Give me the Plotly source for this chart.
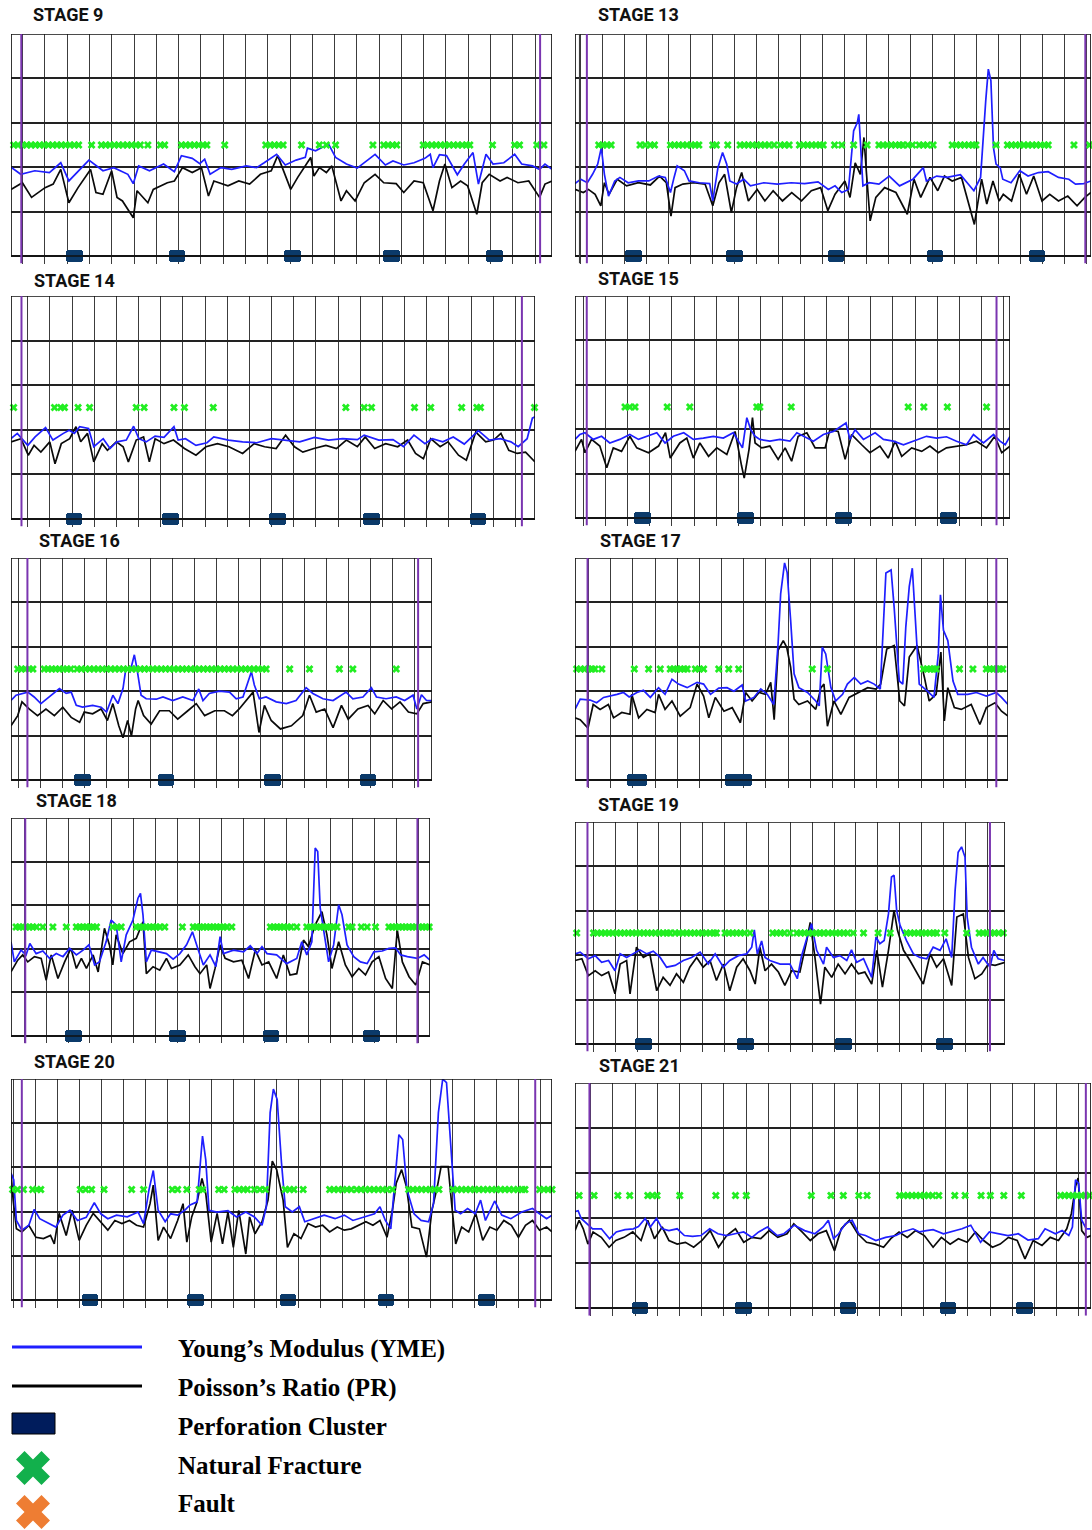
import plotly.graph_objects as go

# ============================ DATA ============================
# Each curve: (depth in % of the displayed stage interval, log value in track divisions 0..5)
STAGES = ["STAGE 9", "STAGE 13", "STAGE 14", "STAGE 15", "STAGE 16",
          "STAGE 17", "STAGE 18", "STAGE 19", "STAGE 20", "STAGE 21"]

S9_YME = [(0,2.0),(1.8,1.84),(4.4,1.92),(7.1,1.88),(9.2,2.1),(10.7,1.69),(14.4,2.16),(17.0,1.92),(19.0,1.99),(21.6,1.84),
          (22.6,1.63),(23.6,2.03),(25.6,1.92),(28.2,2.07),(30.2,1.9),(31.5,2.26),(33.5,2.2),(34.9,2.08),(35.8,2.18),(36.8,1.84),
          (38.8,1.99),(40.8,1.95),(43.5,2.03),(45.4,1.99),(46.8,2.1),(49.1,2.29),(50.7,2.05),(52.7,2.16),(54.4,2.22),(54.8,2.43),
          (56.3,2.37),(58.7,2.52),(60.0,2.22),(62.0,2.07),(64.0,1.98),(65.3,2.1),(67.3,2.29),(69.2,2.05),(70.6,2.14),(72.6,2.05),
          (74.5,2.1),(76.5,2.2),(77.5,2.29),(78.0,1.99),(79.2,2.28),(80.5,2.26),(82.5,1.83),(83.8,2.07),(85.4,2.33),(86.4,1.62),
          (87.8,2.29),(89.1,2.07),(91.1,2.1),(93.1,2.29),(94.4,2.07),(96.4,2.03),(97.7,1.95),(98.7,2.07),(100,1.95)]
S9_PR = [(0,1.5),(2.1,1.65),(3.8,1.32),(6.3,1.54),(7.8,1.62),(9.2,1.95),(10.7,1.2),(12.4,1.54),(14.7,1.95),(15.7,1.43),
         (17.0,1.39),(18.6,1.92),(19.6,1.32),(20.6,1.24),(22.6,0.86),(23.3,1.47),(25.3,1.2),(26.3,1.5),(28.9,1.65),(30.2,1.69),
         (31.7,1.99),(33.5,1.88),(35.2,1.99),(36.5,1.35),(37.5,1.69),(40.1,1.58),(42.1,1.69),(44.1,1.62),(46.1,1.84),(48.1,1.92),
         (49.3,2.26),(50.4,1.92),(51.7,1.5),(53.0,1.77),(54.4,2.03),(55.4,2.22),(56.0,1.8),(57.0,1.99),(58.3,1.88),(59.3,2.03),
         (61.0,1.24),(62.0,1.47),(63.6,1.24),(65.3,1.65),(67.3,1.84),(68.9,1.65),(71.2,1.63),(72.6,1.43),(74.5,1.69),(76.2,1.65),
         (78.0,1.02),(79.2,1.69),(80.2,2.07),(81.5,1.54),(83.1,1.69),(84.4,1.58),(86.1,0.94),(87.1,1.65),(88.4,1.84),(90.4,1.69),
         (91.7,1.77),(93.7,1.65),(95.7,1.69),(97.7,1.32),(98.7,1.62),(100,1.69)]
S9_FRAC = [0.5,1.3,2.1,2.9,3.7,4.5,5.3,6.1,6.9,7.7,8.5,9.3,10.1,10.9,11.7,12.5,14.9,16.7,17.5,18.3,19.1,19.9,20.7,21.5,
           22.3,23.1,23.9,25.3,27.6,28.4,31.5,32.3,33.1,33.9,34.7,35.5,36.2,39.5,47.1,47.9,48.7,49.5,50.3,53.7,57.0,58.3,
           60.0,66.9,68.9,69.7,70.5,71.3,76.2,77.0,77.8,78.6,79.4,80.2,81.0,81.8,82.6,83.4,84.2,84.8,89.0,93.1,94.0,97.2,98.5]
S9_PERF = [11.7, 30.7, 52.1, 70.4, 89.3]

S13_YME = [(0,1.63),(1.1,1.73),(2.4,1.65),(3.4,1.84),(4.4,2.07),(5.1,2.44),(5.7,1.84),(6.5,1.35),(7.7,1.69),(8.7,1.77),
           (10.3,1.65),(12.3,1.69),(14.3,1.69),(16.2,1.8),(17.5,1.77),(18.5,1.43),(19.2,1.77),(19.8,2.03),(21.2,1.92),(22.1,1.69),
           (24.1,1.65),(26.1,1.63),(26.7,1.24),(27.7,1.99),(28.6,2.33),(29.4,2.07),(30.0,1.69),(31.3,1.62),(32.7,1.73),(34.0,1.58),
           (36.6,1.65),(39.2,1.62),(41.9,1.65),(44.5,1.63),(47.1,1.67),(49.1,1.5),(50.4,1.58),(51.7,1.43),(53.0,1.5),(53.5,2.14),
           (54.0,2.82),(54.7,3.0),(55.0,3.19),(55.3,2.59),(55.8,1.58),(57.0,1.65),(58.9,1.62),(60.9,1.8),(62.9,1.58),(65.5,1.73),
           (67.5,1.99),(68.1,1.69),(70.1,1.8),(72.1,1.77),(74.7,1.83),(77.3,1.47),(78.6,1.77),(79.6,3.5),(80.1,4.21),(80.6,3.95),
           (81.1,2.44),(81.6,2.07),(82.4,1.99),(82.9,1.73),(84.5,1.65),(86.2,1.92),(87.8,1.8),(89.8,1.88),(91.7,1.9),(93.7,1.77),
           (95.7,1.73),(97.0,1.62),(98.6,1.63),(100,1.69)]
S13_PR = [(0,1.5),(1.6,1.43),(2.6,1.5),(3.9,1.39),(5.0,1.13),(5.7,1.65),(6.6,1.39),(8.2,1.73),(10.0,1.58),(12.3,1.65),
          (14.6,1.6),(16.4,1.8),(17.7,1.65),(18.6,0.9),(19.4,1.54),(20.9,1.62),(23.0,1.65),(25.2,1.62),(26.7,1.13),(27.9,1.65),
          (29.0,1.84),(30.3,0.98),(31.3,1.54),(32.3,1.88),(33.6,1.24),(35.3,1.5),(36.8,1.24),(38.4,1.47),(40.2,1.24),(42.0,1.43),
          (43.9,1.24),(45.8,1.47),(47.6,1.54),(49.0,1.02),(50.4,1.39),(52.3,1.69),(53.3,1.32),(54.3,2.1),(55.3,1.84),(56.0,2.67),
          (56.5,1.84),(57.2,0.79),(58.3,1.32),(60.0,1.54),(62.2,1.43),(64.4,0.94),(65.7,1.73),(67.0,1.32),(68.8,1.77),(70.3,1.47),
          (71.6,1.8),(73.1,1.69),(74.9,1.77),(77.4,0.71),(78.8,1.73),(79.8,1.17),(81.0,1.69),(82.2,1.24),(83.0,1.39),(84.6,1.24),
          (86.1,1.84),(87.5,1.39),(88.9,1.8),(90.5,1.24),(92.0,1.39),(93.7,1.24),(95.5,1.35),(97.3,1.13),(98.8,1.32),(100,1.43)]
S13_FRAC = [4.6,5.4,6.2,7.0,12.6,13.6,14.6,15.4,18.5,19.3,20.1,20.9,21.7,22.5,23.3,24.0,26.7,27.4,29.6,32.0,32.8,33.6,
            34.4,35.2,36.0,36.8,37.6,38.6,39.8,40.6,41.5,43.5,44.3,45.1,45.9,46.7,47.5,48.1,50.3,51.7,54.0,56.6,58.9,59.7,
            60.5,61.3,62.1,62.9,63.5,64.5,65.4,66.7,67.5,68.3,69.4,73.1,73.9,74.7,75.5,76.3,77.1,77.7,81.6,83.8,84.6,85.4,
            86.2,87.0,87.8,88.6,89.4,90.2,91.0,91.7,96.7,99.7]
S13_PERF = [11.3, 30.9, 50.6, 69.8, 89.5]

S14_YME = [(0,1.8),(1.2,1.92),(3.2,1.65),(4.6,1.84),(6.6,2.05),(8.0,1.77),(10.0,1.92),(11.1,1.99),(12.1,1.92),(13.1,2.07),
           (14.8,2.03),(15.8,1.62),(17.6,1.8),(18.9,1.58),(20.2,1.73),(22.0,1.77),(23.4,2.08),(24.4,1.8),(25.8,1.73),(27.5,1.86),
           (29.2,1.83),(31.1,2.07),(31.9,1.77),(33.3,1.8),(35.3,1.65),(37.4,1.71),(38.7,1.84),(41.5,1.77),(44.2,1.73),(46.9,1.71),
           (49.7,1.8),(52.4,1.77),(55.1,1.73),(57.9,1.83),(60.6,1.77),(63.3,1.8),(66.1,1.78),(67.4,1.88),(70.2,1.77),(72.9,1.78),
           (74.9,1.62),(76.9,1.88),(79.0,1.69),(80.4,1.8),(82.4,1.73),(84.4,1.84),(86.5,1.68),(89.2,1.98),(91.3,1.77),(93.4,1.8),
           (95.4,1.73),(96.8,1.62),(98.5,1.8),(99.5,2.26),(100,2.29)]
S14_PR = [(0,1.73),(1.9,1.8),(3.3,1.43),(4.4,1.65),(5.7,1.5),(7.4,1.73),(8.4,1.24),(9.6,1.69),(11.2,1.8),(12.4,2.07),
          (13.3,1.73),(14.6,1.92),(15.8,1.28),(17.4,1.69),(18.4,1.54),(20.1,1.73),(21.4,1.62),(22.4,1.28),(23.9,1.77),(25.3,1.84),
          (26.4,1.28),(27.5,1.8),(29.2,1.69),(31.0,1.77),(33.1,1.58),(35.3,1.43),(37.2,1.62),(39.4,1.69),(41.6,1.62),(44.2,1.47),
          (46.4,1.69),(48.4,1.62),(50.6,1.58),(52.4,1.88),(54.1,1.62),(55.7,1.5),(57.8,1.58),(60.1,1.65),(62.1,1.58),(64.0,1.77),
          (66.1,1.62),(67.6,1.84),(69.4,1.58),(71.5,1.69),(73.8,1.62),(75.7,1.77),(77.2,1.47),(78.7,1.35),(80.1,1.8),(81.9,1.62),
          (83.4,1.73),(85.4,1.43),(86.9,1.32),(88.7,1.95),(90.6,1.73),(92.1,1.77),(93.5,1.92),(95.0,1.54),(96.6,1.47),(98.2,1.5),
          (100,1.28)]
S14_FRAC = [0.5,8.3,9.5,10.2,12.8,15.0,23.9,25.4,31.1,33.1,38.6,63.9,67.4,68.8,77.0,80.1,86.0,88.9,89.6,99.9]
S14_PERF = [12.0, 30.4, 50.8, 68.8, 89.1]

S15_YME = [(0,1.77),(1.1,1.88),(2.3,1.92),(4.2,1.77),(6.1,1.84),(8.0,1.69),(10.3,1.77),(12.6,1.88),(14.6,1.77),(16.5,1.84),
           (18.8,1.92),(20.7,1.69),(22.6,1.84),(25.0,1.92),(27.2,1.77),(29.5,1.8),(31.8,1.84),(34.1,1.8),(36.4,1.92),(38.5,1.58),
           (39.5,2.26),(40.4,1.99),(41.4,1.84),(42.5,1.77),(44.8,1.73),(47.1,1.77),(49.4,1.73),(51.0,1.92),(52.5,1.84),(54.8,1.73),
           (57.1,1.88),(59.4,1.95),(61.7,2.1),(62.3,2.14),(63.2,1.77),(64.4,1.99),(66.3,1.77),(69.0,1.92),(70.9,1.77),(73.2,1.73),
           (75.5,1.65),(77.8,1.73),(80.8,1.84),(83.1,1.8),(85.4,1.83),(87.7,1.73),(90.0,1.65),(91.6,1.88),(93.9,1.69),(96.2,1.88),
           (97.7,1.73),(98.9,1.65),(100,1.84)]
S15_PR = [(0,1.5),(1.5,1.77),(2.3,1.47),(3.8,1.77),(5.7,1.62),(7.3,1.13),(8.8,1.58),(10.7,1.5),(12.6,1.84),(14.2,1.58),
          (16.9,1.47),(19.2,1.62),(20.8,1.92),(21.9,1.35),(24.1,1.69),(25.7,1.8),(27.2,1.35),(28.7,1.69),(30.7,1.39),(32.6,1.58),
          (34.9,1.43),(36.8,1.95),(38.3,1.17),(38.9,0.9),(40.0,1.54),(40.8,2.26),(41.4,1.69),(42.9,1.58),(44.8,1.62),(46.7,1.32),
          (48.3,1.58),(49.8,1.28),(51.3,1.84),(53.3,1.92),(55.2,1.58),(57.5,1.58),(58.6,1.99),(60.5,1.95),(62.1,1.32),(63.6,1.88),
          (65.9,1.65),(67.8,1.47),(70.1,1.62),(72.0,1.35),(73.6,1.73),(75.1,1.39),(77.4,1.58),(79.7,1.5),(81.6,1.62),(83.5,1.47),
          (85.4,1.58),(87.7,1.62),(90.0,1.65),(92.3,1.73),(94.6,1.58),(96.5,1.84),(98.1,1.47),(100,1.62)]
S15_FRAC = [11.5,12.6,13.8,21.2,26.4,41.8,42.5,49.7,76.6,80.2,85.6,94.6]
S15_PERF = [15.6, 39.2, 61.7, 85.8]

S16_YME = [(0,1.79),(1.2,1.91),(4.0,1.98),(5.5,1.87),(7.1,1.72),(9.1,1.87),(11.5,2.06),(13.1,1.95),(14.3,1.98),(15.5,1.68),
           (17.0,1.64),(19.4,1.68),(21.4,1.64),(22.7,1.53),(24.2,1.91),(25.4,1.72),(26.6,2.06),(27.3,2.52),(28.3,2.44),(28.9,2.67),
           (29.3,2.82),(29.9,2.52),(30.9,1.91),(32.1,1.83),(34.5,1.82),(36.1,1.87),(38.4,1.79),(40.8,1.87),(43.2,1.79),(44.6,2.05),
           (45.6,1.79),(47.1,1.95),(49.5,2.0),(51.9,1.98),(53.5,1.83),(55.1,1.87),(56.3,2.21),(57.1,2.44),(57.8,2.14),(59.0,1.83),
           (60.6,1.87),(63.0,1.76),(65.4,1.72),(67.7,1.79),(70.1,2.08),(71.7,1.95),(74.1,1.83),(76.5,1.79),(79.6,1.98),(81.2,1.83),
           (83.6,1.87),(85.6,2.08),(86.8,1.87),(89.1,1.83),(91.5,1.87),(93.5,1.79),(95.5,1.91),(96.4,1.6),(97.5,1.92),(98.7,1.79),
           (100,1.79)]
S16_PR = [(0,1.22),(1.6,1.45),(2.6,1.76),(4.3,1.6),(6.3,1.45),(8.3,1.6),(10.3,1.45),(12.3,1.64),(14.3,1.41),(16.3,1.3),
          (17.4,1.53),(19.4,1.49),(21.4,1.6),(22.9,1.34),(24.2,1.72),(25.6,1.22),(26.6,0.95),(27.7,1.34),(28.6,0.99),(29.6,1.6),
          (30.2,1.79),(31.5,1.45),(33.3,1.26),(35.3,1.56),(37.6,1.56),(39.6,1.37),(42.0,1.56),(44.0,1.72),(46.0,1.45),(48.4,1.56),
          (50.7,1.56),(52.6,1.45),(54.2,1.6),(56.2,1.83),(57.5,1.98),(58.9,1.07),(60.2,1.68),(61.8,1.34),(64.0,1.15),(66.6,1.22),
          (69.3,1.45),(70.9,1.91),(72.5,1.53),(74.5,1.6),(76.5,1.18),(78.5,1.68),(80.1,1.37),(82.4,1.6),(84.8,1.68),(86.4,1.49),
          (88.4,1.79),(90.4,1.6),(92.4,1.76),(94.4,1.53),(96.4,1.49),(97.9,1.72),(100,1.76)]
S16_FRAC = [1.6,2.5,3.4,4.3,5.2,7.9,8.8,9.7,10.6,11.5,12.4,13.3,14.2,15.7,16.7,17.7,18.7,19.7,20.7,21.7,22.7,23.7,24.7,
            25.7,26.7,27.7,28.7,29.7,30.7,31.7,32.7,33.7,34.7,35.7,36.7,37.7,38.7,39.7,40.7,41.7,42.7,43.7,44.7,45.7,46.7,
            47.7,48.7,49.7,50.7,51.7,52.7,53.7,54.7,55.7,56.7,57.7,58.7,59.7,60.6,66.2,70.9,78.0,81.2,91.5]
S16_PERF = [17.0, 36.8, 62.2, 84.8]

S17_YME = [(0,1.59),(1.2,1.82),(3.5,1.8),(5.0,1.74),(6.6,1.86),(8.1,1.89),(9.7,1.93),(11.2,1.97),(12.5,1.87),(14.3,1.97),
           (15.8,2.02),(17.4,1.86),(19.3,2.08),(20.8,1.93),(22.4,2.27),(23.9,2.16),(25.9,2.08),(28.2,2.2),(29.7,2.16),(31.3,1.93),
           (33.2,2.07),(35.1,2.08),(36.7,2.0),(38.6,2.14),(39.4,1.78),(41.3,1.86),(42.9,2.05),(44.4,1.93),(45.9,1.7),(46.9,3.07),
           (47.5,4.2),(48.4,4.89),(49.0,4.67),(49.8,3.6),(50.6,2.39),(51.7,2.08),(53.7,1.97),(55.6,1.78),(56.4,1.67),(57.1,2.99),
           (57.9,2.84),(59.1,2.08),(60.2,1.78),(61.8,1.93),(62.9,2.16),(64.5,2.31),(66.0,2.16),(67.6,2.23),(69.1,2.16),(70.5,2.05),
           (71.3,3.83),(71.8,4.66),(73.0,4.73),(73.7,3.9),(74.9,2.23),(75.7,2.16),(76.4,3.45),(77.2,4.36),(77.9,4.77),(78.7,3.52),
           (79.5,2.16),(81.4,2.0),(82.9,1.86),(83.9,2.84),(84.4,4.17),(85.1,3.37),(86.1,3.14),(87.3,2.23),(88.4,1.93),(90.7,1.93),
           (92.7,1.97),(95.0,1.89),(97.3,1.97),(98.5,1.86),(100,1.7)]
S17_PR = [(0,1.4),(1.2,1.36),(3.0,1.17),(4.2,1.7),(5.8,1.59),(7.7,1.7),(8.9,1.4),(10.8,1.52),(12.7,1.48),(13.1,1.93),
          (14.7,1.4),(16.6,1.59),(18.5,1.52),(19.3,1.93),(20.8,1.59),(22.4,1.78),(24.3,1.44),(26.6,1.63),(28.2,2.16),(29.7,1.89),
          (30.9,1.4),(32.4,1.86),(34.4,1.55),(36.3,1.63),(38.2,1.29),(39.4,1.97),(40.9,1.78),(42.5,1.97),(44.0,1.93),(45.2,2.2),
          (46.0,1.36),(46.9,2.92),(48.1,3.14),(48.9,2.99),(49.8,2.54),(50.6,1.82),(51.7,1.7),(53.7,1.78),(55.6,1.59),(56.8,2.08),
          (57.5,2.16),(58.3,1.21),(59.8,1.78),(61.4,1.48),(63.3,1.86),(65.6,1.97),(67.6,2.08),(69.5,2.05),(70.6,2.16),(72.0,2.95),
          (73.7,3.03),(75.0,1.78),(76.1,1.67),(77.2,2.77),(79.0,3.03),(80.7,2.31),(81.8,1.78),(83.4,1.93),(84.5,2.88),(85.3,1.33),
          (86.1,2.08),(87.6,1.63),(89.2,1.59),(91.5,1.7),(93.5,1.25),(95.0,1.63),(97.0,1.74),(98.5,1.55),(100,1.44)]
S17_FRAC = [0.4,1.3,2.2,3.1,3.9,4.6,6.2,13.7,17.0,19.7,22.0,22.8,23.6,24.4,25.2,25.9,27.8,28.7,29.7,33.2,35.5,37.8,
            54.8,58.3,80.5,81.3,82.1,82.8,83.4,88.8,91.9,95.0,95.8,96.6,97.4,98.1,98.8]
S17_PERF = [14.3, 37.7]

S18_YME = [(0,2.16),(0.8,1.7),(2.4,1.97),(3.6,1.86),(4.5,2.12),(6.0,1.89),(7.6,1.95),(9.2,1.78),(10.8,1.89),(12.4,1.82),
           (14.0,2.01),(15.6,1.86),(17.2,1.97),(18.6,2.09),(19.95,1.63),(21.1,1.7),(22.7,2.16),(23.9,2.66),(25.1,2.55),(26.3,1.7),
           (27.5,2.32),(29.1,2.66),(30.3,3.16),(30.9,3.27),(31.5,2.78),(32.3,1.7),(33.5,1.97),(35.5,1.93),(37.1,1.89),(38.7,1.76),
           (40.3,1.89),(41.9,2.09),(43.3,2.39),(44.7,1.97),(45.9,1.63),(47.5,1.86),(48.9,1.59),(49.9,2.28),(50.7,1.89),(53.1,1.97),
           (55.5,1.93),(57.1,2.07),(58.7,1.89),(59.9,2.05),(61.1,1.89),(63.4,1.86),(65.8,1.66),(68.2,1.78),(69.4,2.16),(70.6,1.86),
           (71.8,2.16),(72.6,4.31),(73.2,4.23),(73.8,2.93),(74.6,2.39),(75.8,1.7),(77.0,2.09),(78.2,3.01),(79.0,2.78),(80.2,2.09),
           (81.8,1.82),(83.4,1.7),(85.0,1.66),(86.6,1.93),(88.6,1.95),(90.2,2.01),(91.8,2.02),(93.0,1.86),(94.6,1.82),(97.0,1.78),
           (98.6,1.86),(100,1.74)]
S18_PR = [(0,1.47),(1.6,1.74),(2.8,1.86),(4.0,1.7),(5.6,1.82),(7.2,1.78),(8.4,1.28),(9.6,1.86),(11.2,1.32),(12.8,1.7),
          (14.3,2.01),(15.6,1.55),(16.8,1.78),(18.0,1.55),(19.6,1.86),(20.8,1.47),(22.3,2.47),(23.5,2.09),(24.3,1.63),(25.1,2.32),
          (26.7,1.89),(28.3,2.16),(29.9,2.24),(31.5,2.62),(32.3,1.43),(33.9,1.59),(35.5,1.51),(37.1,1.78),(38.3,1.55),(40.3,1.63),
          (42.3,1.86),(43.9,1.59),(45.1,1.43),(46.7,1.63),(47.5,1.09),(48.7,1.55),(49.9,2.09),(51.1,1.78),(53.1,1.7),(55.1,1.74),
          (56.7,1.32),(58.3,1.97),(59.9,1.63),(61.5,1.7),(63.4,1.32),(65.0,1.86),(66.6,1.4),(68.2,1.43),(69.8,2.2),(71.0,2.05),
          (72.6,2.55),(74.2,2.85),(75.4,2.32),(76.6,1.55),(78.2,2.16),(79.8,1.63),(81.4,1.36),(83.0,1.55),(84.6,1.4),(86.2,1.7),
          (87.8,1.82),(89.4,1.32),(91.0,1.09),(92.2,2.43),(93.4,1.7),(95.0,1.36),(96.6,1.17),(98.2,1.7),(100,1.63)]
S18_FRAC = [1.2,2.0,2.8,3.6,4.4,5.2,6.1,7.6,10.0,13.2,15.6,16.4,17.2,18.0,18.8,19.6,20.4,24.3,25.3,26.3,29.9,30.7,31.5,
            32.3,33.1,33.9,34.7,35.5,36.7,40.9,43.5,44.3,45.1,45.9,46.7,47.5,48.3,49.1,49.9,50.7,51.5,52.7,61.9,62.7,63.5,
            64.3,65.1,66.0,66.8,68.2,70.6,71.4,72.2,73.0,73.8,74.6,75.4,76.2,77.0,77.8,80.6,81.4,83.6,85.0,87.0,90.2,91.0,
            91.8,92.6,93.4,94.2,95.0,95.8,96.6,97.4,98.2,99.0,99.8]
S18_PERF = [14.9, 39.7, 62.0, 86.0]

S19_YME = [(0,2.03),(1.2,2.07),(3.1,1.92),(4.7,1.99),(6.2,1.84),(7.8,1.88),(9.3,1.65),(10.5,2.03),(12.0,1.95),(13.6,2.03),
           (15.1,2.12),(16.7,2.03),(18.2,2.09),(19.8,1.95),(21.3,1.73),(23.3,1.77),(25.2,1.88),(27.1,1.95),(29.1,2.07),(31.0,1.8),
           (32.6,2.03),(34.5,1.73),(36.0,1.88),(38.0,1.99),(39.9,2.03),(41.1,2.18),(41.7,2.57),(42.4,2.03),(43.4,2.32),(44.2,1.95),
           (45.3,1.88),(47.7,1.8),(50.0,1.8),(51.7,1.47),(52.7,1.99),(54.0,2.41),(55.0,2.71),(56.2,2.11),(57.8,1.8),(58.5,2.18),
           (60.1,1.95),(61.6,1.99),(63.2,1.88),(64.3,2.12),(65.5,1.84),(67.1,1.92),(69.0,1.5),(70.0,2.41),(70.9,2.26),(71.9,2.33),
           (72.9,2.93),(73.6,3.76),(74.2,3.8),(74.8,3.01),(75.6,2.67),(77.1,2.33),(78.7,2.03),(80.2,1.95),(81.8,1.92),(83.3,2.18),
           (84.9,2.11),(86.3,2.37),(87.6,1.95),(88.4,3.46),(89.1,4.32),(89.9,4.44),(90.7,4.21),(91.2,2.86),(92.2,2.18),(93.8,1.8),
           (94.9,1.95),(96.5,1.73),(97.4,2.11),(98.4,1.92),(100,1.88)]
S19_PR = [(0,1.88),(1.6,1.92),(3.1,1.54),(4.7,1.65),(6.2,1.54),(7.8,1.62),(9.3,1.13),(10.5,1.8),(12.0,1.88),(12.8,1.13),
          (14.3,2.18),(15.9,1.95),(17.4,2.03),(19.0,1.2),(20.5,1.5),(22.1,1.32),(23.6,1.58),(25.2,1.39),(26.7,1.73),(28.3,1.95),
          (29.8,1.73),(31.4,1.88),(32.9,1.43),(34.5,1.8),(36.0,1.2),(37.6,1.73),(39.1,1.92),(40.7,1.65),(41.9,1.35),(43.0,2.18),
          (44.2,1.65),(45.7,1.8),(47.3,1.62),(48.8,1.32),(50.4,1.65),(52.3,1.62),(53.9,2.33),(54.7,2.74),(55.8,1.95),(57.1,0.9),
          (58.1,1.73),(59.7,1.5),(61.2,1.8),(62.8,1.58),(64.3,1.8),(65.9,1.58),(67.4,1.62),(69.0,1.35),(70.2,2.11),(71.5,1.28),
          (72.9,2.11),(74.2,3.01),(75.0,2.56),(76.4,2.11),(77.9,1.88),(79.5,1.62),(81.0,1.35),(82.6,2.03),(84.1,1.73),(85.7,1.92),
          (87.6,1.32),(88.8,2.86),(90.3,2.93),(91.5,1.95),(93.0,1.47),(94.6,1.58),(96.1,1.8),(97.7,1.77),(100,1.84)]
S19_FRAC = [0.4,4.3,5.2,6.1,7.0,7.9,8.8,9.7,10.6,11.5,12.4,13.3,14.2,15.1,16.0,16.9,17.8,18.7,19.6,20.5,21.4,22.1,23.3,
            24.2,25.1,26.0,26.9,27.8,28.7,29.6,30.5,31.4,32.3,32.9,34.9,35.8,36.7,37.6,38.5,39.4,40.7,46.0,46.9,47.8,48.7,
            50.0,51.6,52.5,53.4,54.3,55.2,56.1,57.0,57.8,58.9,59.8,60.7,61.6,62.5,63.4,64.7,67.1,70.5,73.3,77.1,78.0,78.9,
            79.8,80.7,81.6,82.5,83.4,84.1,86.0,91.1,94.0,94.9,95.8,96.7,97.6,98.5,99.6]
S19_PERF = [15.9, 39.7, 62.4, 85.9]

S20_YME = [(0,2.87),(0.5,2.72),(1.0,1.8),(2.0,1.58),(3.3,1.69),(4.3,2.05),(5.3,1.84),(7.0,1.73),(8.3,1.65),(9.6,1.92),
           (10.9,2.03),(12.3,1.8),(13.9,1.87),(15.4,2.2),(16.6,1.95),(17.9,1.84),(19.5,1.92),(21.5,1.88),(23.5,1.99),(24.5,1.73),
           (25.5,2.49),(26.3,2.93),(27.2,2.03),(28.5,1.77),(29.5,1.95),(30.8,1.92),(32.1,2.03),(33.1,2.15),(34.4,2.22),(34.9,2.95),
           (35.4,3.71),(36.0,3.17),(36.6,2.03),(38.1,1.99),(40.1,2.02),(41.7,1.88),(43.4,1.99),(45.0,1.88),(46.4,1.69),(47.2,2.11),
           (47.9,4.24),(48.5,4.77),(49.2,4.54),(50.0,3.1),(50.7,2.11),(52.0,1.99),(53.3,2.11),(54.3,1.77),(56.0,1.84),(57.9,1.92),
           (59.9,1.84),(61.6,1.92),(63.2,1.8),(65.2,1.88),(67.2,1.95),(68.2,2.11),(69.2,1.8),(70.2,1.61),(70.9,2.56),(71.7,3.74),
           (72.4,3.63),(73.2,2.49),(74.5,1.95),(75.8,1.8),(77.2,1.77),(78.1,2.18),(79.0,4.24),(79.8,5.0),(80.5,4.92),(81.3,3.48),
           (82.1,2.03),(83.1,1.95),(84.4,2.07),(85.8,1.95),(86.8,2.26),(87.7,1.8),(89.4,2.24),(90.7,1.92),(92.4,1.84),(94.4,1.99),
           (96.4,2.07),(97.7,1.95),(99.0,1.84),(100,1.92)]
S20_PR = [(0,2.88),(0.4,2.26),(1.0,1.61),(2.0,1.54),(3.3,1.69),(4.6,1.42),(6.0,1.39),(7.3,1.46),(8.0,1.27),(8.9,1.96),
          (10.2,1.46),(11.3,2.03),(12.6,1.35),(13.9,1.69),(15.2,1.96),(16.6,1.77),(17.9,1.58),(19.2,1.8),(20.5,1.73),(21.9,1.8),
          (23.2,1.69),(24.5,1.65),(25.7,2.18),(26.3,2.6),(27.2,1.35),(28.2,1.65),(29.5,1.39),(30.8,1.8),(31.8,2.18),(32.5,1.31),
          (33.4,1.88),(34.4,2.22),(35.3,2.75),(36.0,2.41),(37.0,1.31),(38.1,1.96),(39.1,1.27),(40.1,1.99),(41.1,1.19),(42.1,2.03),
          (43.4,1.04),(44.1,1.88),(45.1,1.5),(46.4,1.77),(47.5,2.26),(48.3,3.14),(49.1,2.95),(50.3,2.26),(51.1,1.19),(52.3,1.5),
          (53.6,1.39),(54.9,1.73),(56.3,1.65),(57.6,1.69),(58.9,1.54),(60.3,1.65),(61.6,1.58),(62.9,1.61),(64.2,1.69),(65.6,1.77),
          (66.9,1.69),(68.2,1.8),(69.5,1.42),(70.5,2.03),(71.2,2.64),(72.2,2.95),(73.1,2.56),(74.1,1.65),(75.5,1.61),(76.8,0.97),
          (77.8,2.03),(78.8,2.56),(79.5,3.02),(80.8,3.02),(81.5,2.11),(82.2,1.27),(83.3,1.65),(84.6,1.54),(85.9,1.96),(87.2,1.35),
          (88.5,1.65),(89.8,1.58),(91.1,1.8),(92.5,1.69),(93.8,1.42),(95.1,1.69),(96.4,1.8),(97.7,1.58),(99.0,1.65),(100,1.54)]
S20_FRAC = [0.3,1.2,2.3,4.0,4.8,5.5,12.8,13.8,14.9,17.2,22.3,24.5,29.8,30.8,32.5,34.8,35.4,38.4,39.4,41.4,42.2,43.0,43.7,
            45.0,46.0,47.0,50.7,51.5,52.3,54.0,58.9,59.7,60.5,61.3,62.1,62.9,63.9,64.7,65.5,66.3,67.1,67.9,68.7,69.5,70.5,
            73.5,74.3,75.1,75.9,76.7,77.5,78.3,79.1,81.7,82.5,83.3,84.1,84.9,85.7,86.5,87.3,88.1,88.9,89.7,90.5,91.3,92.1,
            92.9,93.7,94.5,95.0,97.7,98.5,99.3,100]
S20_PERF = [14.6, 34.1, 51.2, 69.3, 87.9]

S21_YME = [(0,2.14),(0.6,2.16),(1.2,1.99),(2.4,1.87),(3.4,1.76),(5.1,1.76),(6.7,1.54),(8.0,1.69),(9.7,1.74),(11.3,1.76),
           (12.3,1.81),(13.6,1.99),(14.6,1.8),(15.8,1.99),(16.9,1.76),(18.2,1.72),(19.8,1.76),(21.2,1.61),(22.8,1.59),(24.4,1.61),
           (26.1,1.76),(27.7,1.65),(29.4,1.61),(31.0,1.65),(32.7,1.69),(34.3,1.57),(35.6,1.69),(37.3,1.8),(39.2,1.61),(40.5,1.65),
           (42.5,1.84),(44.5,1.72),(46.5,1.65),(48.1,1.8),(49.1,1.95),(50.1,1.54),(51.1,1.65),(52.4,1.87),(53.7,1.95),(55.0,1.65),
           (56.3,1.61),(58.3,1.5),(60.2,1.57),(62.2,1.61),(63.5,1.69),(65.5,1.76),(66.8,1.69),(68.1,1.72),(69.4,1.74),(71.4,1.65),
           (73.4,1.72),(75.0,1.76),(76.7,1.84),(78.6,1.46),(80.3,1.69),(82.3,1.65),(83.9,1.61),(85.9,1.65),(87.8,1.51),(89.8,1.54),
           (91.1,1.76),(93.1,1.65),(94.4,1.72),(95.7,1.61),(96.4,1.8),(97.0,2.85),(97.6,2.77),(98.2,1.95),(99.1,1.76),(100,1.76)]
S21_PR = [(0,1.72),(0.8,1.95),(1.6,1.76),(2.5,1.42),(3.5,1.69),(5.1,1.57),(6.6,1.35),(7.9,1.5),(9.5,1.57),(11.2,1.69),
          (12.8,1.5),(14.1,1.95),(15.4,1.54),(16.9,1.8),(18.2,1.5),(19.8,1.42),(21.4,1.46),(23.0,1.35),(24.6,1.5),(26.2,1.72),
          (27.8,1.35),(29.4,1.61),(31.1,1.76),(32.7,1.46),(34.3,1.57),(36.0,1.54),(37.6,1.72),(39.3,1.57),(41.1,1.65),(42.4,1.87),
          (44.0,1.69),(45.6,1.5),(47.1,1.65),(48.7,1.72),(50.3,1.27),(51.6,1.76),(53.2,1.95),(54.8,1.65),(56.5,1.46),(58.2,1.42),
          (59.8,1.35),(61.2,1.54),(62.8,1.69),(64.4,1.57),(66.0,1.72),(67.7,1.61),(69.4,1.35),(71.0,1.57),(72.7,1.42),(74.3,1.54),
          (76.0,1.46),(77.6,1.69),(79.2,1.5),(80.9,1.35),(82.4,1.42),(84.0,1.57),(85.7,1.5),(87.2,1.09),(88.8,1.5),(90.5,1.39),
          (92.1,1.57),(93.7,1.5),(95.3,1.76),(96.2,2.1),(97.0,2.7),(97.5,2.89),(98.2,1.72),(99.2,1.57),(100,1.61)]
S21_FRAC = [0.8,3.7,8.3,10.6,14.1,15.0,15.9,20.3,27.3,31.1,33.2,45.8,49.6,52.0,55.0,56.6,62.9,63.7,64.5,65.3,66.1,66.9,
            67.7,68.5,69.3,70.5,73.6,75.6,78.7,80.5,83.1,86.5,94.1,94.9,95.7,96.5,97.3,98.1,98.9,99.7]
S21_PERF = [12.6, 32.7, 52.9, 72.3, 87.1]

LEGEND_LABELS = ["Young’s Modulus (YME)", "Poisson’s Ratio (PR)", "Perforation Cluster",
                 "Natural Fracture", "Fault"]

YME_SERIES = [S9_YME, S13_YME, S14_YME, S15_YME, S16_YME, S17_YME, S18_YME, S19_YME, S20_YME, S21_YME]
PR_SERIES = [S9_PR, S13_PR, S14_PR, S15_PR, S16_PR, S17_PR, S18_PR, S19_PR, S20_PR, S21_PR]
FRAC_SERIES = [S9_FRAC, S13_FRAC, S14_FRAC, S15_FRAC, S16_FRAC, S17_FRAC, S18_FRAC, S19_FRAC, S20_FRAC, S21_FRAC]
PERF_SERIES = [S9_PERF, S13_PERF, S14_PERF, S15_PERF, S16_PERF, S17_PERF, S18_PERF, S19_PERF, S20_PERF, S21_PERF]
FRAC_LEVEL = 2.5

# ============================ LAYOUT / STYLE ============================
W, H = 1092, 1530
PANEL_BOX = [(11, 552, 34, 256), (575, 1091, 34, 256), (11, 535, 296, 519), (575, 1010, 296, 518),
             (11, 432, 558, 780), (575, 1008, 558, 780), (11, 430, 818, 1036), (575, 1005, 822, 1044),
             (11, 552, 1079, 1300), (575, 1091, 1083, 1308)]
TITLE_POS = [(31, 15), (596, 15), (32, 280), (596, 278), (37, 540), (598, 540),
             (34, 800), (596, 804), (32, 1061), (597, 1065)]
GRID = [(6.28, 4.118), (5.26, 4.27), (3.2, 4.23), (7.05, 5.08), (1.8, 5.23), (8.26, 5.12),
        (8.4, 5.22), (4.26, 5.09), (4.5, 4.06), (7.36, 4.3)]
PURPLE = [(1.9, 97.8), (2.3, 98.9), (2.0, 97.5), (2.7, 96.9), (3.9, 96.7), (2.9, 97.3),
          (3.4, 97.0), (2.9, 96.5), (2.0, 96.9), (2.8, 99.0)]
EXTRA_LINES = {1: [0.9]}
PERF_W = [3.1, 3.2, 3.2, 3.9, 4.0, [4.5, 6.3], 3.9, 3.9, 3.1, 3.2]
PERF_BASE, PERF_H = -0.13, 0.26
YLOW = -0.17

BLUE = "#1f1fff"
BLACK = "#0a0a0a"
LIME = "#22ee22"
NAVY = "#0b3a6a"
PURPLE_C = "#7a35b0"

fig = go.Figure()
shapes = []
annotations = []

for i in range(10):
    n = i + 1
    xa, ya = f"x{n}", f"y{n}"
    x0, x1, y0, y1 = PANEL_BOX[i]
    row = (y1 - y0) / 5.0
    ybot = y1 + (-YLOW) * row
    fig.layout[f"xaxis{n}"] = dict(domain=[x0 / W, x1 / W], range=[0, 100], showgrid=True,
                                   tick0=GRID[i][0], dtick=GRID[i][1], gridcolor="#3c3c3c", gridwidth=1.4,
                                   showticklabels=False, zeroline=False, showline=False, ticks="",
                                   fixedrange=True, anchor=ya)
    fig.layout[f"yaxis{n}"] = dict(domain=[1 - ybot / H, 1 - y0 / H], range=[YLOW, 5], showgrid=True,
                                   tick0=0, dtick=1, gridcolor="#222222", gridwidth=1.6,
                                   showticklabels=False, zeroline=False, showline=False, ticks="",
                                   fixedrange=True, anchor=xa)

    pr = PR_SERIES[i]
    fig.add_trace(go.Scatter(x=[p[0] for p in pr], y=[p[1] for p in pr], mode="lines",
                             line=dict(color=BLACK, width=1.7), xaxis=xa, yaxis=ya, showlegend=False,
                             hoverinfo="skip"))
    yme = YME_SERIES[i]
    fig.add_trace(go.Scatter(x=[p[0] for p in yme], y=[p[1] for p in yme], mode="lines",
                             line=dict(color=BLUE, width=1.7), xaxis=xa, yaxis=ya, showlegend=False,
                             hoverinfo="skip"))
    fr = FRAC_SERIES[i]
    fig.add_trace(go.Scatter(x=fr, y=[FRAC_LEVEL] * len(fr), mode="markers",
                             marker=dict(symbol="x", size=7, color=LIME, line=dict(width=0)),
                             xaxis=xa, yaxis=ya, showlegend=False, cliponaxis=False, hoverinfo="skip"))
    pf = PERF_SERIES[i]
    pw = PERF_W[i] if isinstance(PERF_W[i], list) else [PERF_W[i]] * len(pf)
    fig.add_trace(go.Bar(x=pf, y=[PERF_H] * len(pf), base=[PERF_BASE] * len(pf), width=pw,
                         marker=dict(color=NAVY, line=dict(width=0), cornerradius=3),
                         xaxis=xa, yaxis=ya, showlegend=False, hoverinfo="skip"))

    # frame
    shapes.append(dict(type="rect", xref=xa, yref=ya, x0=0, x1=100, y0=0, y1=5,
                       line=dict(color="#111111", width=1.7), fillcolor="rgba(0,0,0,0)", layer="above"))
    for xv in EXTRA_LINES.get(i, []):
        shapes.append(dict(type="line", xref=xa, yref=ya, x0=xv, x1=xv, y0=YLOW, y1=5,
                           line=dict(color="#3c3c3c", width=1.4)))
    for xv in PURPLE[i]:
        shapes.append(dict(type="line", xref=xa, yref=ya, x0=xv, x1=xv, y0=YLOW, y1=5,
                           line=dict(color=PURPLE_C, width=2)))

    tx, ty = TITLE_POS[i]
    annotations.append(dict(text=f"<b>{STAGES[i]}</b>", xref="paper", yref="paper",
                            x=tx / W, y=1 - ty / H, xanchor="left", yanchor="middle", showarrow=False,
                            font=dict(family="Roboto", size=18, color="#111111")))

# ---------- legend ----------
LEG_X_TEXT = 176
LEG_Y = [1349, 1388, 1426, 1465, 1503]
for lbl, yy in zip(LEGEND_LABELS, LEG_Y):
    annotations.append(dict(text=f"<b>{lbl}</b>", xref="paper", yref="paper", x=LEG_X_TEXT / W,
                            y=1 - yy / H, xanchor="left", yanchor="middle", showarrow=False,
                            font=dict(family="Liberation Serif", size=25, color="#000000")))
shapes.append(dict(type="line", xref="paper", yref="paper", x0=12 / W, x1=142 / W,
                   y0=1 - 1347 / H, y1=1 - 1347 / H, line=dict(color=BLUE, width=3)))
shapes.append(dict(type="line", xref="paper", yref="paper", x0=12 / W, x1=142 / W,
                   y0=1 - 1386 / H, y1=1 - 1386 / H, line=dict(color="#000000", width=3)))
shapes.append(dict(type="rect", xref="paper", yref="paper", x0=12 / W, x1=55 / W,
                   y0=1 - 1434 / H, y1=1 - 1413 / H, fillcolor="#001c5c", line=dict(color="#000000", width=1)))

LEG_DOM_TOP = 0.13
fig.layout["xaxis11"] = dict(domain=[0, 0.5], range=[0, 0.5 * W], visible=False, fixedrange=True, anchor="y11")
fig.layout["yaxis11"] = dict(domain=[0, LEG_DOM_TOP], range=[H, H - LEG_DOM_TOP * H], visible=False,
                             fixedrange=True, anchor="x11")
fig.add_trace(go.Scatter(x=[33, 33], y=[1468, 1512], mode="markers",
                         marker=dict(symbol="x", size=30, color=["#12b04c", "#ee7d33"], line=dict(width=0)),
                         xaxis="x11", yaxis="y11", showlegend=False, hoverinfo="skip"))

fig.update_layout(width=W, height=H, margin=dict(l=0, r=0, t=0, b=0),
                  paper_bgcolor="white", plot_bgcolor="white", shapes=shapes,
                  annotations=annotations, showlegend=False, bargap=0)

fig.write_html("out.html")
